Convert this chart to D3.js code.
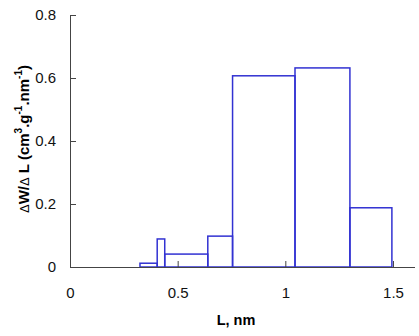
<!DOCTYPE html>
<html><head><meta charset="utf-8">
<script src="https://cdn.jsdelivr.net/npm/d3@7"></script>
<style>body{margin:0;background:#fff}text{font-family:"Liberation Sans",Arial,sans-serif}</style>
</head><body><svg id="c" width="419" height="336"></svg>
<script>
const binStart = [0.325, 0.405, 0.44, 0.64, 0.755, 1.045, 1.3];
const binEnd   = [0.405, 0.44, 0.64, 0.755, 1.045, 1.3, 1.495];
const dWdL     = [0.012, 0.089, 0.041, 0.098, 0.607, 0.632, 0.188];
const xTicks = [0, 0.5, 1, 1.5];
const xTickLabels = ["0", "0.5", "1", "1.5"];
const yTicks = [0, 0.2, 0.4, 0.6, 0.8];
const yTickLabels = ["0", "0.2", "0.4", "0.6", "0.8"];

const svg = d3.select("#c");
const x = d3.scaleLinear().domain([0, 1.6]).range([70, 414.5]);
const y = d3.scaleLinear().domain([0, 0.8]).range([267, 15]);
const axisColor = "#444";

// bars
svg.append("g").selectAll("rect").data(dWdL).join("rect")
  .attr("x", (d,i) => x(binStart[i]))
  .attr("width", (d,i) => x(binEnd[i]) - x(binStart[i]))
  .attr("y", d => y(d))
  .attr("height", d => y(0) - y(d))
  .attr("fill", "none").attr("stroke", "#3232d2").attr("stroke-width", 1.5);

// x axis
const xa = svg.append("g").attr("transform", `translate(0,${y(0)})`)
  .call(d3.axisBottom(x).tickValues(xTicks).tickSizeInner(-6).tickSizeOuter(0)
    .tickFormat((d,i) => xTickLabels[i]).tickPadding(20));
xa.select(".domain").attr("stroke", axisColor);
xa.selectAll(".tick line").attr("stroke", axisColor);
xa.selectAll("text").attr("font-size", 15).attr("fill", "#111").attr("font-family", "Liberation Sans, Arial, sans-serif");

// y axis
const ya = svg.append("g").attr("transform", `translate(${x(0)},0)`)
  .call(d3.axisLeft(y).tickValues(yTicks).tickSizeInner(-6).tickSizeOuter(0)
    .tickFormat((d,i) => yTickLabels[i]).tickPadding(14));
ya.select(".domain").attr("stroke", axisColor);
ya.selectAll(".tick line").attr("stroke", axisColor);
ya.selectAll("text").attr("font-size", 15).attr("fill", "#111").attr("font-family", "Liberation Sans, Arial, sans-serif");

// x title
svg.append("text").attr("x", 236).attr("y", 325).attr("text-anchor", "middle")
  .attr("font-size", 14.5).attr("font-weight", "bold").text("L, nm");

// y title
const yt = svg.append("text").attr("transform", "translate(29,139) rotate(-90)")
  .attr("text-anchor", "middle").attr("font-size", 15).attr("font-weight", "bold");
yt.append("tspan").attr("font-weight", "normal").attr("font-size", 13).text("\u0394");
yt.append("tspan").text("W/");
yt.append("tspan").attr("font-weight", "normal").attr("font-size", 13).text("\u0394");
yt.append("tspan").text(" L (cm");
yt.append("tspan").attr("font-size", 10).attr("dy", -7).text("3");
yt.append("tspan").attr("dy", 7).text(".g");
yt.append("tspan").attr("font-size", 10).attr("dy", -7).text("-1");
yt.append("tspan").attr("dy", 7).text(".nm");
yt.append("tspan").attr("font-size", 10).attr("dy", -7).text("-1");
yt.append("tspan").attr("dy", 7).text(")");
</script></body></html>
